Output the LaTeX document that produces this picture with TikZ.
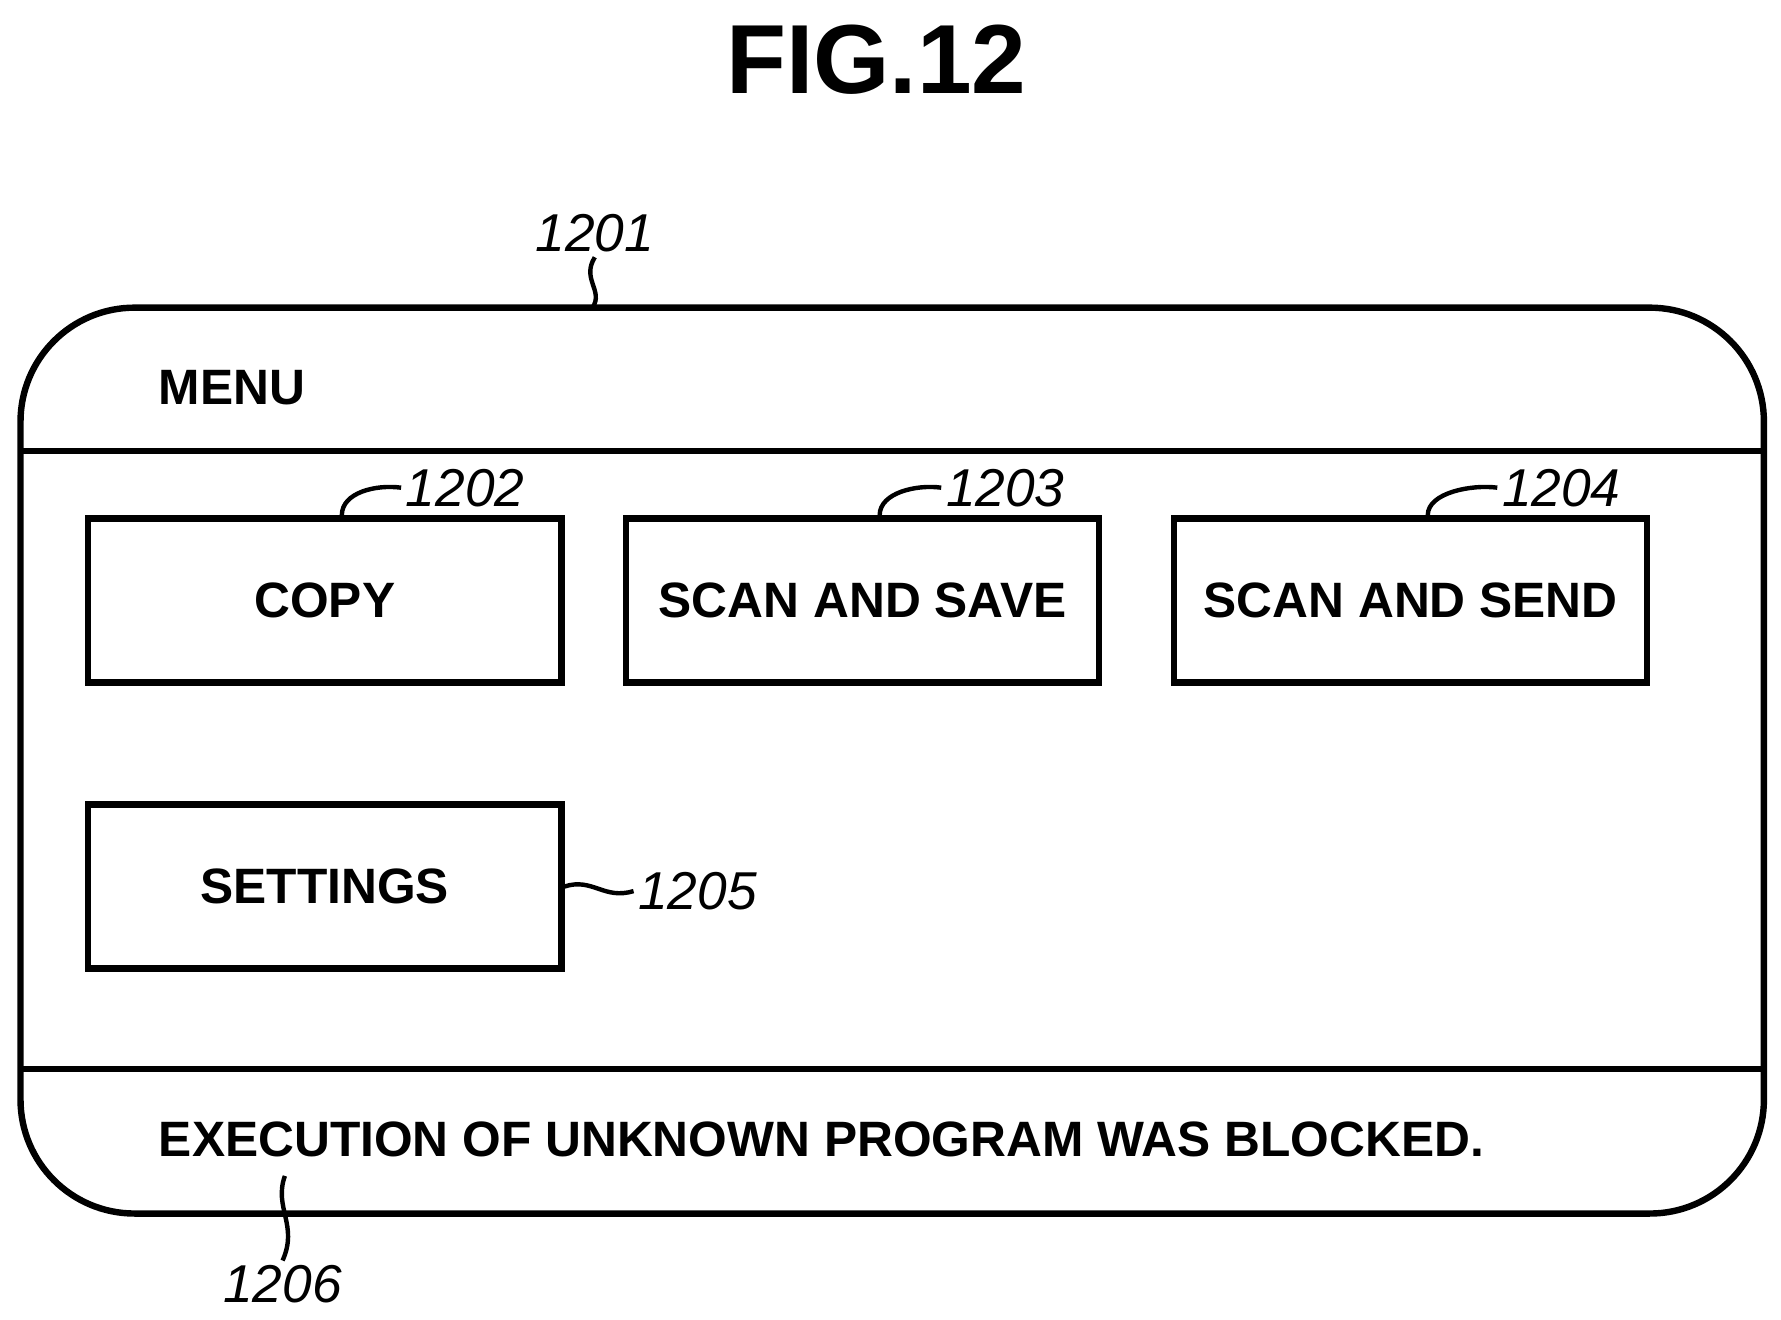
\documentclass[tikz,border=0pt]{standalone}
\usepackage{fontspec}
\setmainfont{Liberation Sans}
\usetikzlibrary{positioning}
\tikzset{
  panel/.style={draw, line width=1.6pt},
  textfont/.style={font=\bfseries\fontsize{12.4}{15}\selectfont},
  button/.style={panel, textfont, minimum width=4.15cm, minimum height=1.44cm},
  reflabel/.style={font=\itshape\fontsize{13.3}{16}\selectfont, inner sep=1pt},
  leader/.style={line width=1.1pt}
}
\begin{document}
\begin{tikzpicture}[x=0.01cm,y=-0.01cm]
    \useasboundingbox (0,0) rectangle (1563,1158);
    \node[font=\bfseries\fontsize{24.5}{28}\selectfont] (fig) at (769,52) {FIG.12};

    % outer screen
    \draw[panel, rounded corners=1cm] (18,270) rectangle (1548,1065);
    \draw[panel] (18,396) -- (1548,396);
    \draw[panel] (18,938) -- (1548,938);
    \node[anchor=west, textfont] (menu) at (127,340) {MENU};
    \node[anchor=west, textfont] (msg) at (127,1000) {EXECUTION OF UNKNOWN PROGRAM WAS BLOCKED.};

    % buttons
    \node[button] (copy) at (285,527) {COPY};
    \node[button] (save) at (757,527) {SCAN AND SAVE};
    \node[button] (send) at (1238,527) {SCAN AND SEND};
    \node[button] (settings) at (285,778) {SETTINGS};

    % reference numerals
    \node[reflabel] (l1201) at (522,205) {1201};
    \node[reflabel, anchor=west] (l1202) at (352,428) {1202};
    \node[reflabel, anchor=west] (l1203) at (826,428) {1203};
    \node[reflabel, anchor=west] (l1204) at (1314,428) {1204};
    \node[reflabel, anchor=west] (l1205) at (556,782) {1205};
    \node[reflabel] (l1206) at (248,1127) {1206};

    \coordinate (c1201) at (520,270);
    \coordinate (c1206) at (250,1032);
    \draw[leader] (l1201.south) .. controls (510,245) and (530,255) .. (c1201);
    \draw[leader] (copy.north) ++(15,0) .. controls +(0,-20) and (330,425) .. (l1202.west);
    \draw[leader] (save.north) ++(15,0) .. controls +(0,-20) and (805,425) .. (l1203.west);
    \draw[leader] (send.north) ++(15,0) .. controls +(0,-20) and (1292,425) .. (l1204.west);
    \draw[leader] (settings.east) .. controls (520,770) and (530,790) .. (l1205.west);
    \draw[leader] (c1206) .. controls (240,1060) and (262,1075) .. (l1206.north);
\end{tikzpicture}
\end{document}
